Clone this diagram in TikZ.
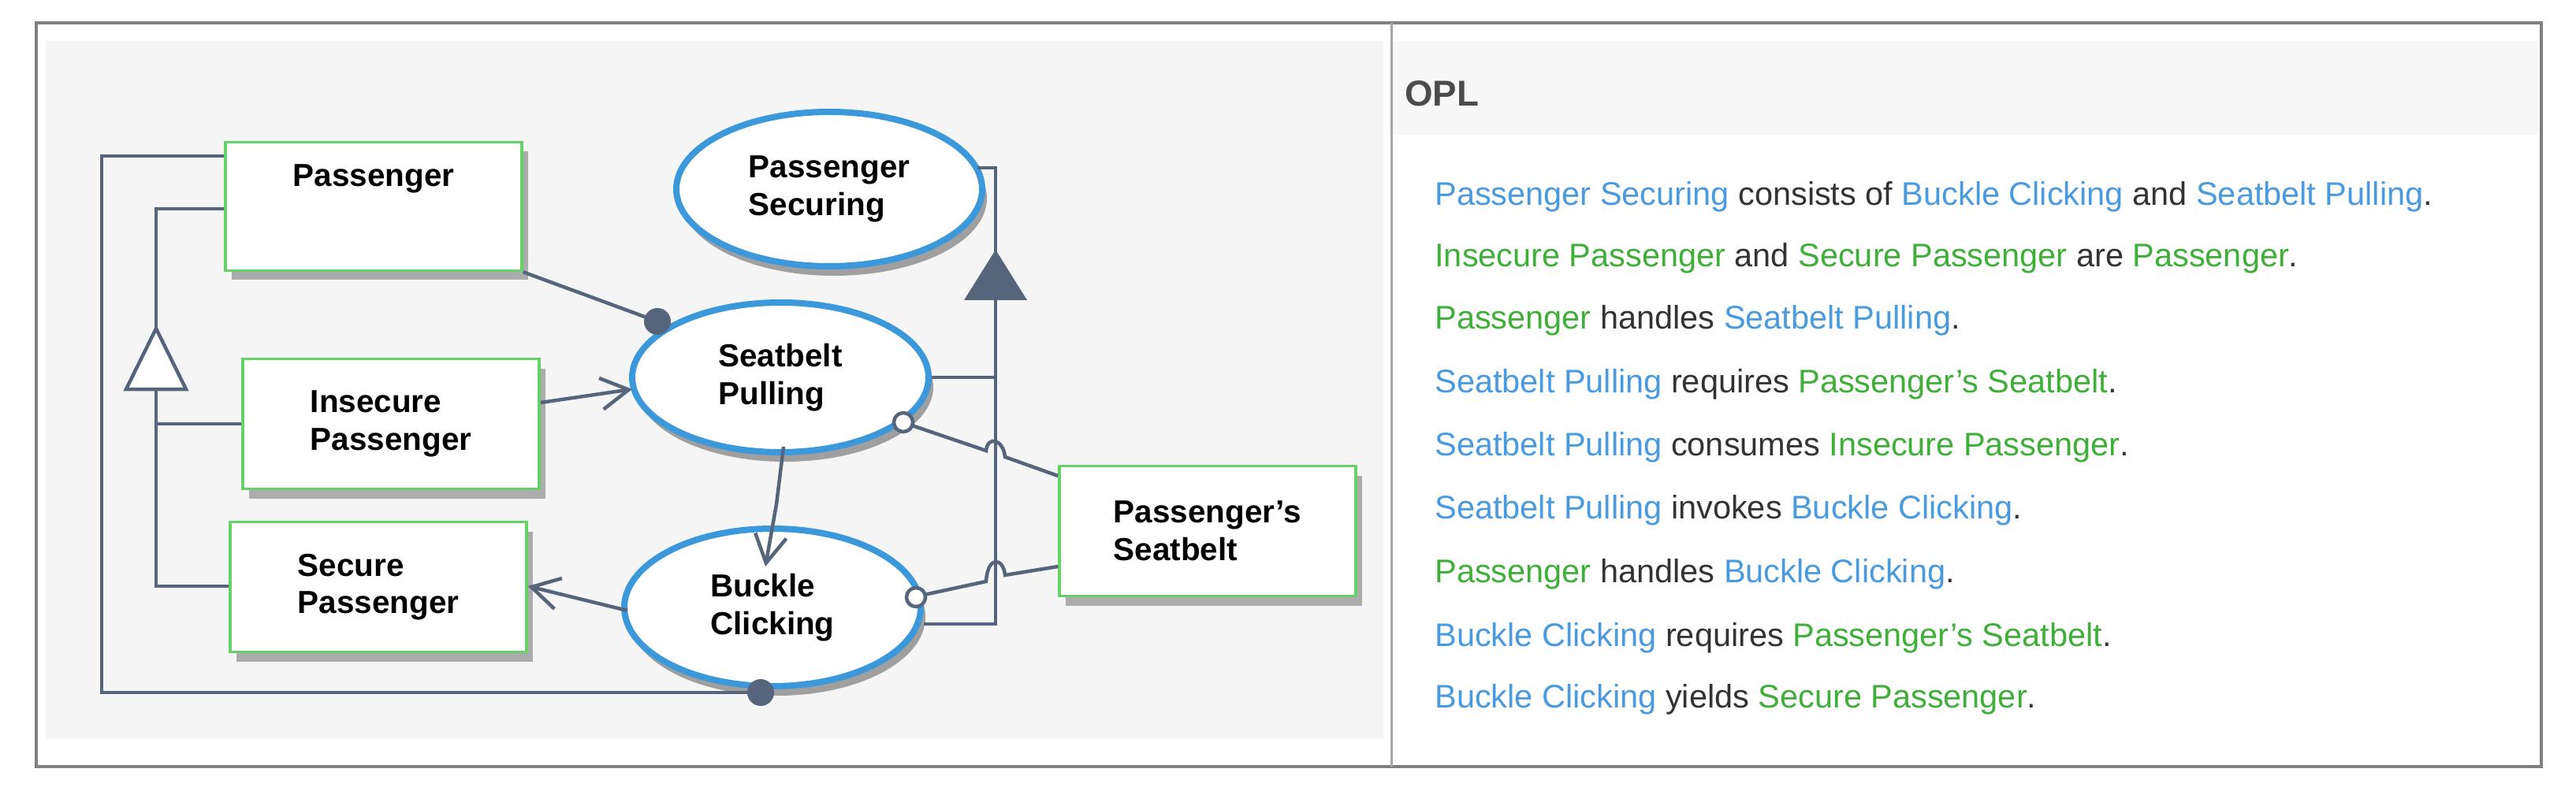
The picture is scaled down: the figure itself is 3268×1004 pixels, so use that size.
\documentclass[tikz,border=0pt]{standalone}
\usepackage{fontspec}
\setmainfont{Liberation Sans}
\usetikzlibrary{shapes.geometric,shadows,arrows.meta}
\definecolor{oplblue}{HTML}{4A9AE0}
\definecolor{oplgreen}{HTML}{3FAF3A}
\definecolor{linkgray}{HTML}{56647C}
\definecolor{framegray}{HTML}{808080}
\newcommand{\pb}[1]{\textcolor{oplblue}{#1}}
\newcommand{\pg}[1]{\textcolor{oplgreen}{#1}}
\tikzset{
  object/.style={draw=green!70!black!60, line width=0.35mm, fill=white, rectangle,
    minimum width=37.6mm, minimum height=16.5mm, align=left, font=\bfseries\fontsize{11.5}{13.5}\selectfont,
    drop shadow={shadow xshift=0.8mm, shadow yshift=-1.2mm, fill=gray!65, opacity=1}},
  process/.style={draw=cyan!70!blue!80, line width=0.8mm, fill=white, ellipse,
    minimum width=37.6mm, minimum height=19mm, align=left, font=\bfseries\fontsize{11.5}{13.5}\selectfont,
    drop shadow={shadow xshift=0.6mm, shadow yshift=-1.2mm, fill=gray!75, opacity=1}},
  link/.style={draw=linkgray, line width=0.45mm},
  opl/.style={anchor=west, text=black!80, font=\fontsize{11.8}{14}\selectfont}
}
\begin{document}
\begin{tikzpicture}[x=0.1mm, y=-0.1mm]
  \useasboundingbox (0,0) rectangle (3268,1004);
  % panels
  \fill[white] (46,29) rectangle (3224,973);
  \fill[gray!8] (58,52) rectangle (1755,938);
  \fill[gray!6] (1767,52) rectangle (3220,171);
  \draw[framegray, line width=0.45mm] (46,29) rectangle (3224,973);
  \draw[framegray!70, line width=0.3mm] (1765,29) -- (1765,973);
  % objects
  \node[object, minimum height=16.3mm] (pass) at (474,262) {};
  \node[font=\bfseries\fontsize{11.5}{13.5}\selectfont, anchor=north] (passlbl) at (474,196) {Passenger};
  \node[object] (insec) at (496,538) {Insecure\\Passenger};
  \node[object] (sec) at (480,745) {Secure\\Passenger};
  \node[object] (belt) at (1532,674) {Passenger's\\Seatbelt};
  % processes
  \node[process, minimum width=38.8mm, minimum height=19.6mm] (secur) at (1052,240) {Passenger\\Securing};
  \node[process] (pull) at (990,479) {Seatbelt\\Pulling};
  \node[process, minimum height=20mm] (click) at (980,771) {Buckle\\Clicking};
  % aggregation
  \coordinate (aggtop) at (1263,213);
  \coordinate (aggpull) at (1263,479);
  \coordinate (aggclick) at (1263,792);
  \draw[link] (1240,213) -- (aggtop) -- (aggclick) -- (click.east |- aggclick);
  \draw[link] (pull.east |- aggpull) -- (aggpull);
  \fill[linkgray] (1263,317) -- (1223,381) -- (1303,381) -- cycle;
  % generalization
  \coordinate (gentop) at (198,265);
  \coordinate (genins) at (198,538);
  \coordinate (gensec) at (198,744);
  \draw[link] (pass.west |- gentop) -- (gentop) -- (gensec) -- (sec.west |- gensec);
  \draw[link] (genins) -- (insec.west |- genins);
  \draw[link, fill=white] (198,417) -- (160,494) -- (236,494) -- cycle;
  % agent links
  \coordinate (loopa) at (129,198);
  \coordinate (loopb) at (129,879);
  \draw[link] (pass.west |- loopa) -- (loopa) -- (loopb) -- (965,879);
  \fill[linkgray] (965,879) circle (1.7mm);
  \draw[link] (pass.south east) -- (834,408);
  \fill[linkgray] (834,408) circle (1.7mm);
  % consumption, invocation, result
  \draw[link, -{Straight Barb[open, length=3.5mm, width=4mm]}] (insec.east |- 0,511) -- (802,494);
  \draw[link, -{Straight Barb[open, length=3.5mm, width=4mm]}] (994,567) -- (985,640) -- (971,719);
  \draw[link, -{Straight Barb[open, length=3.5mm, width=4mm]}] (796,775) -- (sec.east |- 0,744);
  % instrument links
  \draw[link] (belt.west |- 0,604) -- (1275,580) .. controls (1273,558) and (1253,552) .. (1251,572) -- (1154,539);
  \draw[link, fill=white] (1146,536) circle (1.2mm);
  \draw[link] (belt.west |- 0,719) -- (1275,730) .. controls (1273,708) and (1253,704) .. (1251,738) -- (1172,755);
  \draw[link, fill=white] (1162,758) circle (1.2mm);
  % OPL
  \node[anchor=west, text=black!70, font=\bfseries\fontsize{13}{15}\selectfont] (oplhead) at (1770,119) {OPL};
  \node[opl] (l1) at (1808,250) {\pb{Passenger Securing} consists of \pb{Buckle Clicking} and \pb{Seatbelt Pulling}.};
  \node[opl] (l2) at (1808,328) {\pg{Insecure Passenger} and \pg{Secure Passenger} are \pg{Passenger}.};
  \node[opl] (l3) at (1808,407) {\pg{Passenger} handles \pb{Seatbelt Pulling}.};
  \node[opl] (l4) at (1808,488) {\pb{Seatbelt Pulling} requires \pg{Passenger's Seatbelt}.};
  \node[opl] (l5) at (1808,568) {\pb{Seatbelt Pulling} consumes \pg{Insecure Passenger}.};
  \node[opl] (l6) at (1808,648) {\pb{Seatbelt Pulling} invokes \pb{Buckle Clicking}.};
  \node[opl] (l7) at (1808,729) {\pg{Passenger} handles \pb{Buckle Clicking}.};
  \node[opl] (l8) at (1808,810) {\pb{Buckle Clicking} requires \pg{Passenger's Seatbelt}.};
  \node[opl] (l9) at (1808,888) {\pb{Buckle Clicking} yields \pg{Secure Passenger}.};
\end{tikzpicture}
\end{document}
